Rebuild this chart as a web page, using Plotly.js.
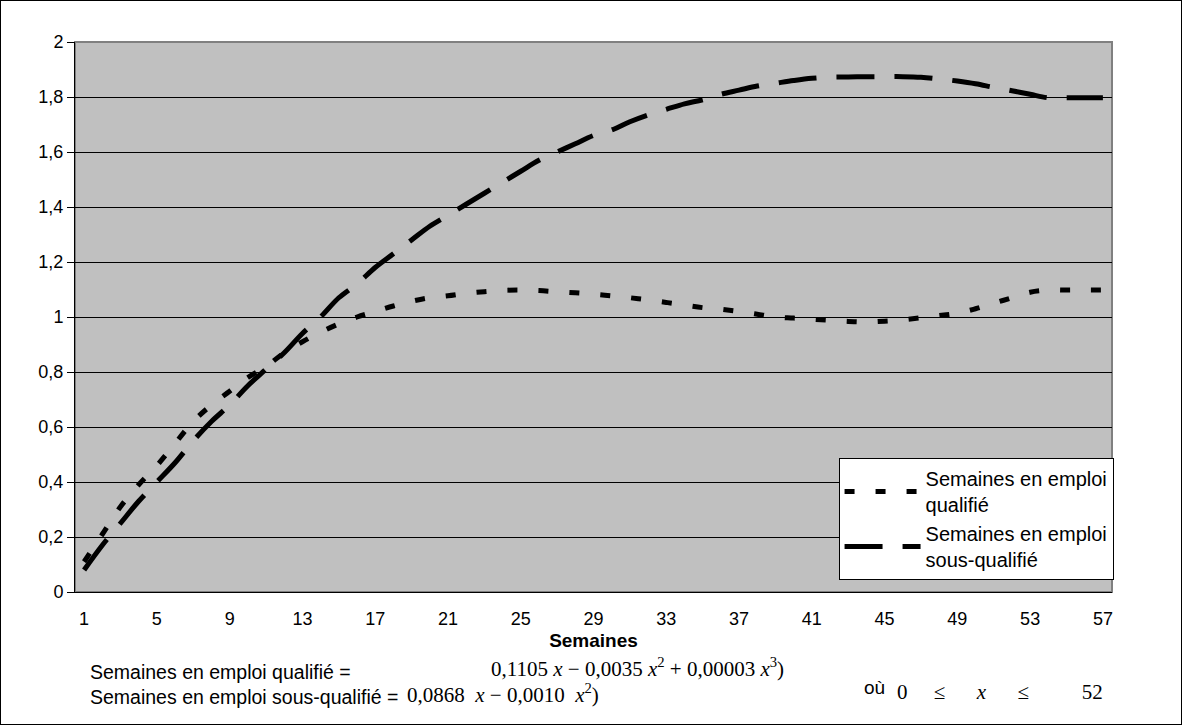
<!DOCTYPE html>
<html>
<head>
<meta charset="utf-8">
<script src="https://cdn.plot.ly/plotly-3.0.1.min.js"></script>
<style>
  html, body { margin: 0; padding: 0; background: #fff; }
  #wrap { position: relative; width: 1182px; height: 725px; }
  #chart { width: 1182px; height: 725px; }
  #frame { position: absolute; left: 0; top: 0; width: 1180px; height: 723px; border: 1px solid #000; pointer-events: none; }
</style>
</head>
<body>
<div id="wrap"><div id="chart"></div><div id="frame"></div></div>
<script>
// Weeks (categories)
const weeks = [1,2,3,4,5,6,7,8,9,10,11,12,13,14,15,16,17,18,19,20,21,22,23,24,25,26,27,28,29,30,
  31,32,33,34,35,36,37,38,39,40,41,42,43,44,45,46,47,48,49,50,51,52,53,54,55,56,57];

// Semaines en emploi qualifié (dotted)
const qualifie = [0.11,0.21,0.31,0.39,0.46,0.54,0.62,0.68,0.73,0.78,0.82,0.87,0.91,0.945,0.975,1.00,1.02,1.04,1.057,1.07,
  1.077,1.086,1.092,1.097,1.098,1.096,1.092,1.088,1.083,1.077,1.07,1.062,1.053,1.043,1.034,1.028,1.02,1.01,1.0,0.996,
  0.992,0.988,0.984,0.982,0.985,0.99,0.997,1.005,1.014,1.03,1.05,1.07,1.09,1.098,1.098,1.098,1.098];

// Semaines en emploi sous-qualifié (long dash)
const sousQualifie = [0.08,0.17,0.25,0.33,0.40,0.47,0.55,0.62,0.68,0.75,0.81,0.87,0.94,1.00,1.07,1.12,1.18,1.23,1.28,1.33,
  1.37,1.41,1.45,1.49,1.53,1.57,1.60,1.63,1.66,1.68,1.71,1.735,1.755,1.775,1.79,1.81,1.825,1.84,1.85,1.86,
  1.868,1.872,1.873,1.874,1.874,1.874,1.872,1.866,1.858,1.848,1.835,1.823,1.81,1.797,1.797,1.797,1.797];

// Axis labels
const xTickLabels = ['1','5','9','13','17','21','25','29','33','37','41','45','49','53','57'];
const yTickVals = [0,0.2,0.4,0.6,0.8,1,1.2,1.4,1.6,1.8,2];
const yTickText = ['0','0,2','0,4','0,6','0,8','1','1,2','1,4','1,6','1,8','2'];

const seriesNames = ['Semaines en emploi<br>qualifié', 'Semaines en emploi<br>sous-qualifié'];

const labelVals = xTickLabels.map(Number);
const boundaryVals = labelVals.map(v => v - 0.5);

const traces = [
  {
    x: weeks, y: qualifie, name: seriesNames[0], type: 'scatter', mode: 'lines',
    line: { color: '#000', width: 5, dash: '10px,21px', shape: 'spline', smoothing: 1 }
  },
  {
    x: weeks, y: sousQualifie, name: seriesNames[1], type: 'scatter', mode: 'lines',
    line: { color: '#000', width: 5, dash: '38px,20px', shape: 'spline', smoothing: 1 }
  }
];

const serif = 'Liberation Serif, Times New Roman, serif';
const sans = 'Liberation Sans, Arial, sans-serif';
const tickFont = { family: sans, size: 18, color: '#000' };
const S = '\u00a0';
const sp = n => S.repeat(n);

const layout = {
  width: 1182, height: 725,
  margin: { l: 75, r: 70, t: 42, b: 133 },
  paper_bgcolor: '#ffffff',
  plot_bgcolor: '#c0c0c0',
  showlegend: true,
  legend: {
    x: 1.0015, xanchor: 'right', y: 0.022, yanchor: 'bottom',
    bgcolor: '#ffffff', bordercolor: '#000', borderwidth: 1,
    font: { family: sans, size: 20, color: '#000' },
    itemwidth: 76, tracegroupgap: 0
  },
  xaxis: {
    range: [0.5, 57.5], tickmode: 'array', tickvals: labelVals, ticktext: xTickLabels,
    ticks: '', showgrid: false, zeroline: false,
    showline: true, linecolor: '#000', linewidth: 1,
    tickfont: tickFont, ticklabelstandoff: 10,
    title: { text: '<b>Semaines</b>', font: { family: sans, size: 19, color: '#000' }, standoff: 6 },
    fixedrange: true
  },
  xaxis2: {
    overlaying: 'x', anchor: 'y', side: 'bottom',
    range: [0.5, 57.5], tickmode: 'array', tickvals: boundaryVals,
    ticks: 'outside', ticklen: 6, tickcolor: '#000', tickwidth: 1,
    showticklabels: false, showgrid: false, zeroline: false, showline: false
  },
  yaxis: {
    range: [0, 2], tickmode: 'array', tickvals: yTickVals, ticktext: yTickText,
    ticks: 'outside', ticklen: 7, tickcolor: '#000', tickwidth: 1,
    showgrid: true, gridcolor: '#000', gridwidth: 1, zeroline: false,
    showline: true, linecolor: '#000', linewidth: 1,
    tickfont: tickFont, fixedrange: true
  },
  shapes: [
    { type: 'rect', xref: 'paper', yref: 'paper', x0: 0, x1: 1, y0: 0, y1: 1,
      line: { color: '#808080', width: 2 }, layer: 'below' }
  ],
  annotations: [
    { xref: 'paper', yref: 'paper', x: 0.0125, y: -0.145, xanchor: 'left', yanchor: 'middle', showarrow: false,
      text: 'Semaines en emploi qualifié =', font: { family: sans, size: 19.5, color: '#000' } },
    { xref: 'paper', yref: 'paper', x: 0.399, y: -0.138, xanchor: 'left', yanchor: 'middle', showarrow: false,
      text: '0,1105 <i>x</i> − 0,0035 <i>x</i><sup>2</sup> + 0,00003 <i>x</i><sup>3</sup>)', font: { family: serif, size: 21, color: '#000' } },
    { xref: 'paper', yref: 'paper', x: 0.0125, y: -0.191, xanchor: 'left', yanchor: 'middle', showarrow: false,
      text: 'Semaines en emploi sous-qualifié =', font: { family: sans, size: 19.5, color: '#000' } },
    { xref: 'paper', yref: 'paper', x: 0.318, y: -0.185, xanchor: 'left', yanchor: 'middle', showarrow: false,
      text: '0,0868' + sp(2) + '<i>x</i> − 0,0010' + sp(2) + '<i>x</i><sup>2</sup>)', font: { family: serif, size: 21, color: '#000' } },
    { xref: 'paper', yref: 'paper', x: 0.759, y: -0.1745, xanchor: 'left', yanchor: 'middle', showarrow: false,
      text: 'où', font: { family: sans, size: 19, color: '#000' } },
    { xref: 'paper', yref: 'paper', x: 0.791, y: -0.182, xanchor: 'left', yanchor: 'middle', showarrow: false,
      text: '0' + sp(5) + '≤' + sp(6) + '<i>x</i>' + sp(6) + '≤' + sp(10) + '52', font: { family: serif, size: 21, color: '#000' } }
  ]
};

Plotly.newPlot('chart', traces, layout, { displayModeBar: false, staticPlot: true });
</script>
</body>
</html>
